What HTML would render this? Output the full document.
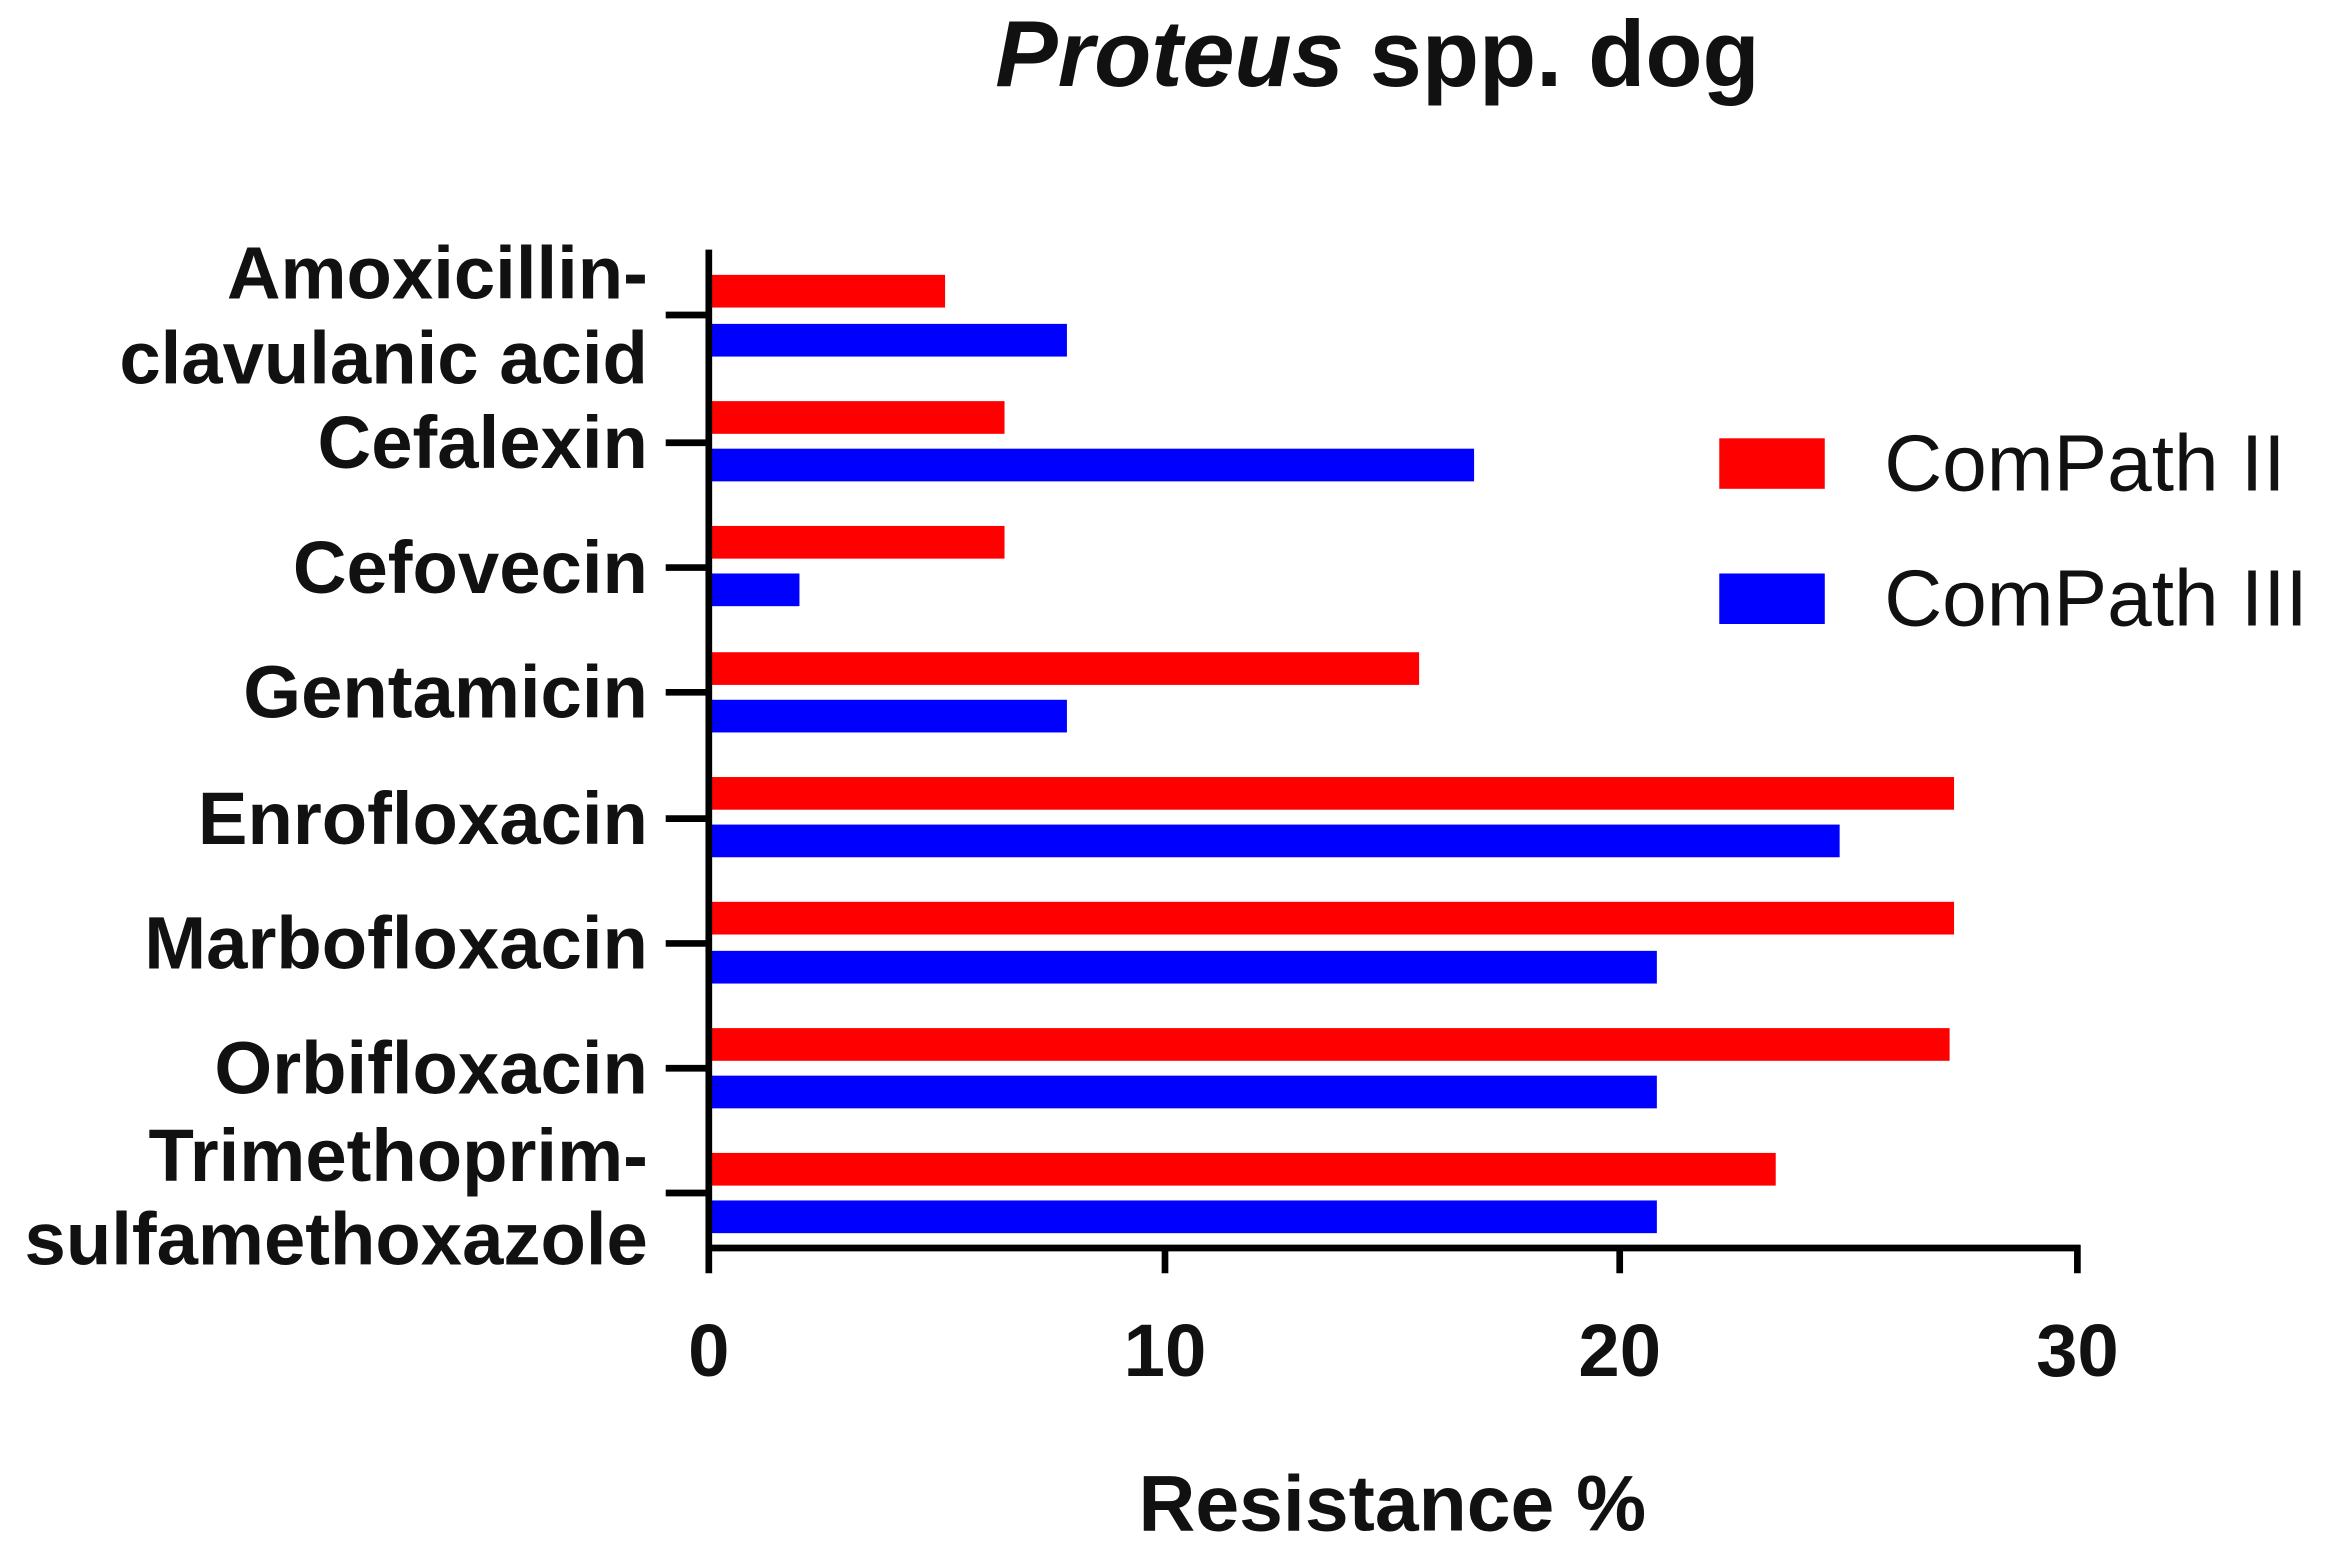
<!DOCTYPE html>
<html><head><style>html,body{margin:0;padding:0;background:#fff}svg{display:block}</style></head><body>
<svg width="2330" height="1560" viewBox="0 0 1568 1050" preserveAspectRatio="none" xmlns="http://www.w3.org/2000/svg" font-family="Liberation Sans, Arial, sans-serif">
<rect width="1568" height="1050" fill="#fff"/>
<text x="927" y="58" font-size="63" font-weight="bold" text-anchor="middle" fill="#111"><tspan font-style="italic">Proteus</tspan> spp. dog</text>
<g fill="#ff0000">
<rect x="479" y="185" width="157" height="22"/>
<rect x="479" y="270" width="197" height="22"/>
<rect x="479" y="354" width="197" height="22"/>
<rect x="479" y="439" width="476" height="22"/>
<rect x="479" y="523" width="836" height="22"/>
<rect x="479" y="607" width="836" height="22"/>
<rect x="479" y="692" width="833" height="22"/>
<rect x="479" y="776" width="716" height="22"/>
</g>
<g fill="#0000ff">
<rect x="479" y="218" width="239" height="22"/>
<rect x="479" y="302" width="513" height="22"/>
<rect x="479" y="386" width="59" height="22"/>
<rect x="479" y="471" width="239" height="22"/>
<rect x="479" y="555" width="759" height="22"/>
<rect x="479" y="640" width="636" height="22"/>
<rect x="479" y="724" width="636" height="22"/>
<rect x="479" y="808" width="636" height="22"/>
</g>
<g stroke="#000" stroke-width="4.5" fill="none">
<line x1="477" y1="168" x2="477" y2="857"/>
<line x1="475" y1="840" x2="1400" y2="840"/>
<line x1="784" y1="840" x2="784" y2="857"/>
<line x1="1090" y1="840" x2="1090" y2="857"/>
<line x1="1398" y1="838" x2="1398" y2="857"/>
<line x1="448" y1="212" x2="477" y2="212"/>
<line x1="448" y1="298" x2="477" y2="298"/>
<line x1="448" y1="382" x2="477" y2="382"/>
<line x1="448" y1="466" x2="477" y2="466"/>
<line x1="448" y1="551" x2="477" y2="551"/>
<line x1="448" y1="635" x2="477" y2="635"/>
<line x1="448" y1="719" x2="477" y2="719"/>
<line x1="448" y1="803" x2="477" y2="803"/>
</g>
<g font-size="50" font-weight="bold" text-anchor="end" fill="#111">
<text x="436" y="201">Amoxicillin-</text>
<text x="436" y="258">clavulanic acid</text>
<text x="436" y="315">Cefalexin</text>
<text x="436" y="399">Cefovecin</text>
<text x="436" y="483">Gentamicin</text>
<text x="436" y="568">Enrofloxacin</text>
<text x="436" y="652">Marbofloxacin</text>
<text x="436" y="736">Orbifloxacin</text>
<text x="436" y="795">Trimethoprim-</text>
<text x="436" y="851">sulfamethoxazole</text>
</g>
<g font-size="50" font-weight="bold" text-anchor="middle" fill="#111">
<text x="477" y="926">0</text>
<text x="784" y="926">10</text>
<text x="1090" y="926">20</text>
<text x="1398" y="926">30</text>
</g>
<text x="937" y="1030" font-size="53" font-weight="bold" text-anchor="middle" fill="#111">Resistance %</text>
<rect x="1157" y="295" width="71" height="34" fill="#ff0000"/>
<rect x="1157" y="386" width="71" height="34" fill="#0000ff"/>
<text x="1268" y="330" font-size="54" fill="#111">ComPath II</text>
<text x="1268" y="421" font-size="54" fill="#111">ComPath III</text>
</svg>
</body></html>
